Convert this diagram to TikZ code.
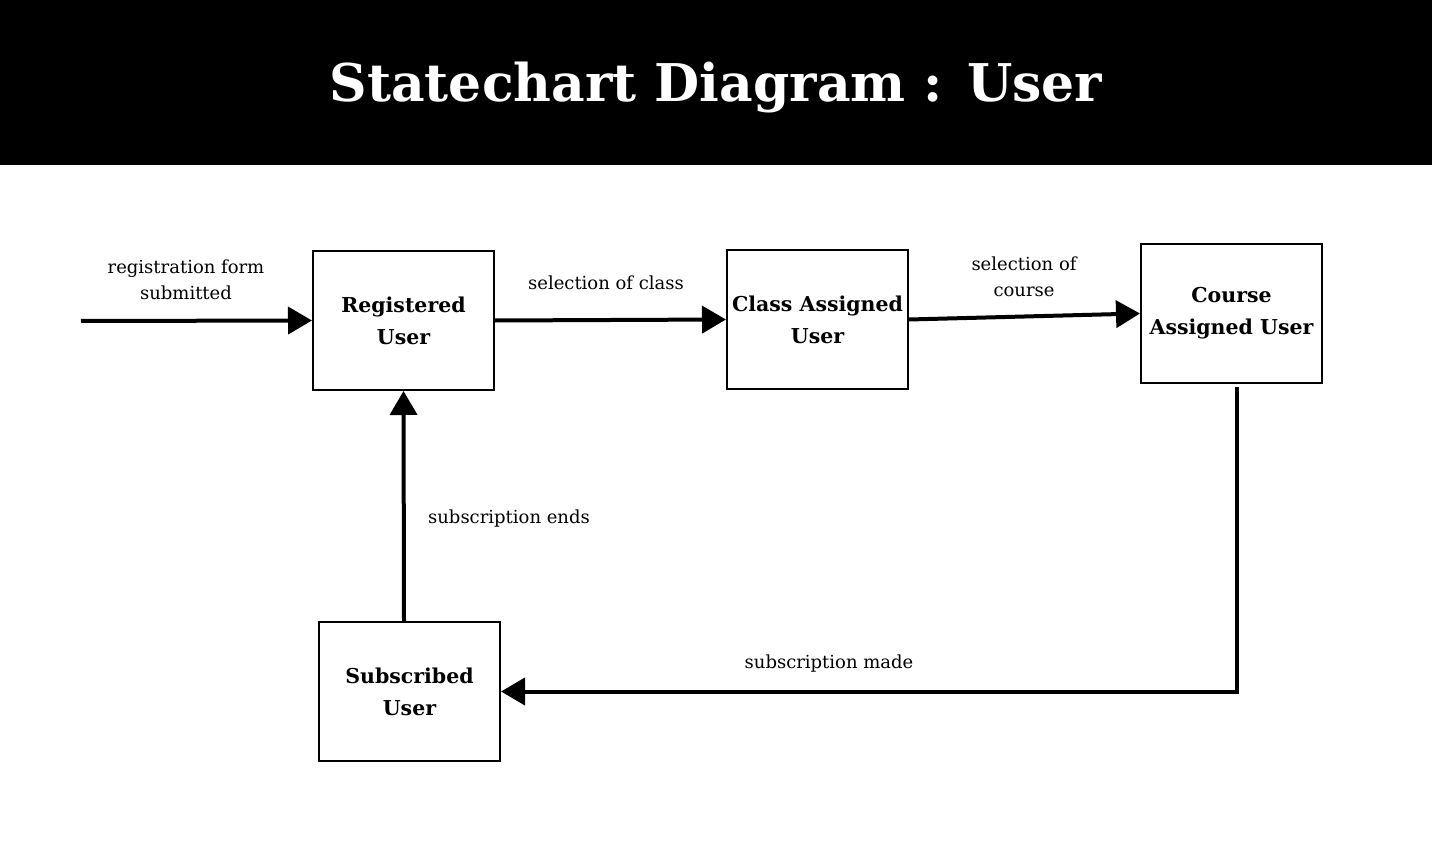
\documentclass[tikz,border=0pt]{standalone}
\usepackage{fontspec}
\setmainfont{DejaVu Serif}
\usetikzlibrary{arrows.meta}
\begin{document}
\begin{tikzpicture}[x=1pt,y=-1pt,
  state/.style={draw,line width=2pt,minimum width=181pt,minimum height=139pt,inner sep=0pt,align=center,font=\fontsize{20.5}{32}\selectfont\bfseries},
  lbl/.style={align=center,font=\fontsize{18}{26}\selectfont},
  conn/.style={line width=4pt,-{Triangle[length=24pt,width=27pt]}}]
\useasboundingbox (0,0) rectangle (1432,842);
\fill[black] (0,0) rectangle (1432,165);
\node[text=white,font=\fontsize{52}{56}\selectfont\bfseries] (title) at (716,88) {Statechart Diagram : User};
\node[state] (reg) at (403.5,320.5) {Registered\\User};
\node[state] (cls) at (817.5,319.5) {Class Assigned\\User};
\node[state] (crs) at (1231.5,313.5) {Course\\Assigned User};
\node[state] (sub) at (409.5,691.5) {Subscribed\\User};
\coordinate (start) at (81,321);
\draw[conn] (start) -- (reg.west);
\draw[conn] (reg.east) -- (cls.west);
\draw[conn] (cls.east) -- (crs.west);
\draw[conn] ([xshift=5.5pt,yshift=-3pt]crs.south) |- (sub.east);
\draw[conn] ([xshift=-5.5pt]sub.north) -- (reg.south);
\node[lbl] (l1) at (186,280) {registration form\\submitted};
\node[lbl] (l2) at (606,283) {selection of class};
\node[lbl] (l3) at (1024,277) {selection of\\course};
\node[lbl] (l4) at (509,519) {subscription ends};
\node[lbl] (l5) at (829,664) {subscription made};
\end{tikzpicture}
\end{document}
